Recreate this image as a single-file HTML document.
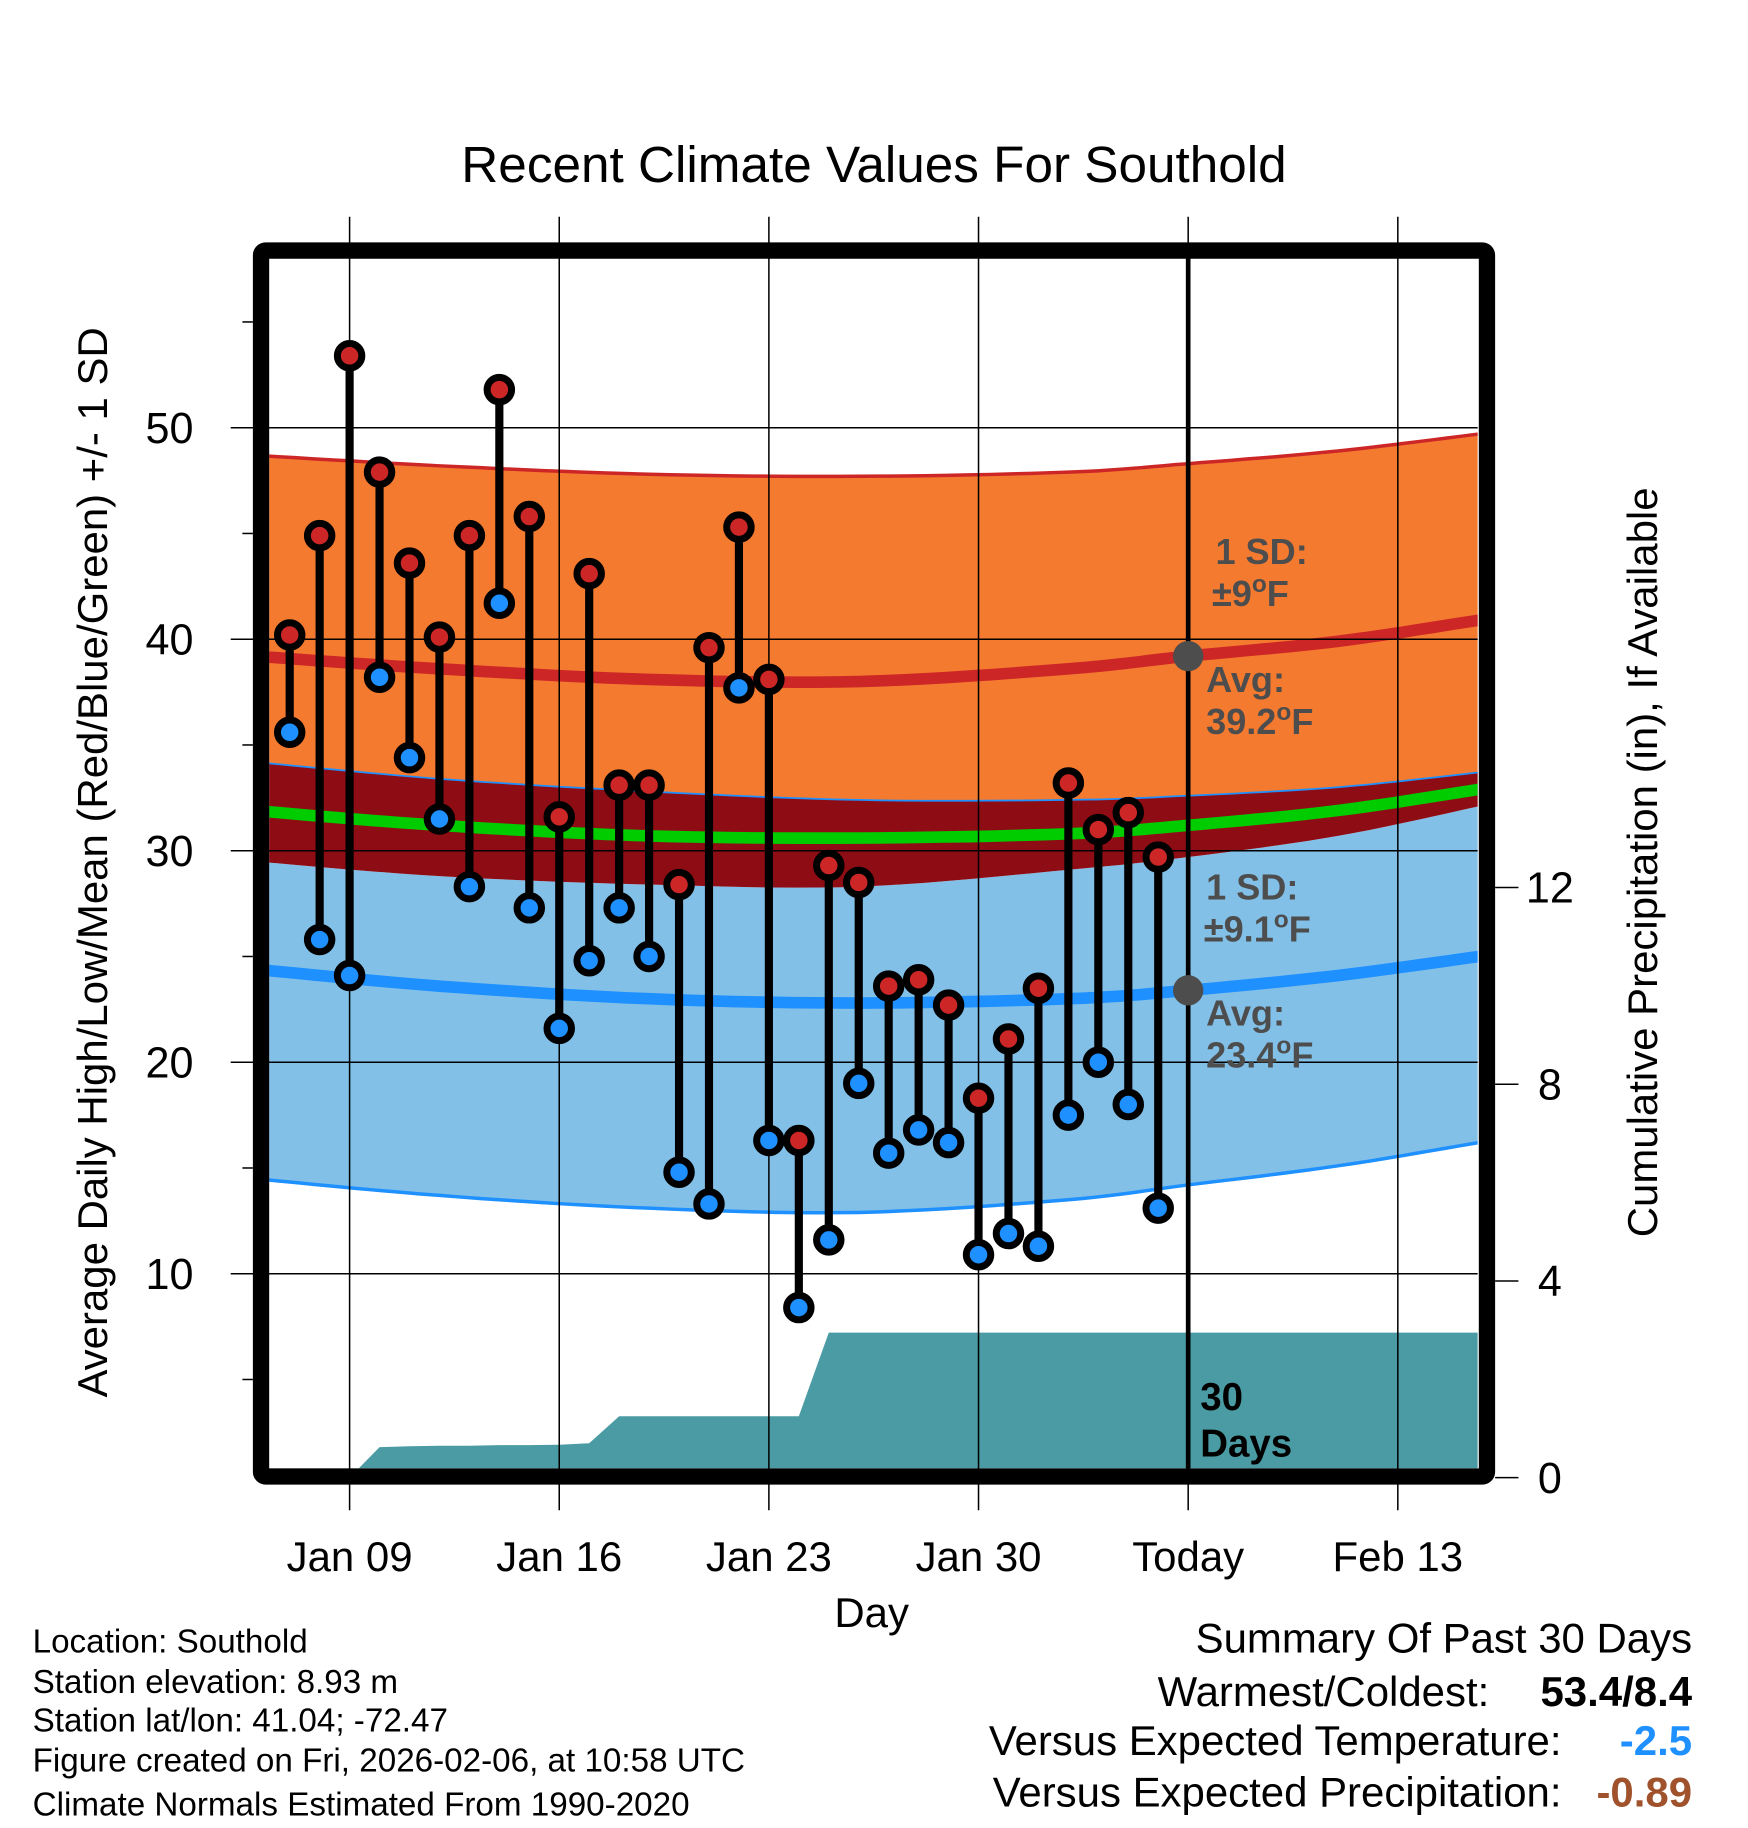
<!DOCTYPE html>
<html><head><meta charset="utf-8"><style>html,body{margin:0;padding:0;background:#fff}svg{display:block}text{font-family:"Liberation Sans",Arial,sans-serif}</style></head>
<body>
<svg id="chart" xmlns="http://www.w3.org/2000/svg" width="1748" height="1828" viewBox="0 0 1500 1568.6">
<text x="750" y="156" font-size="44" text-anchor="middle">Recent Climate Values For Southold</text>
<g id="plot"></g>
</svg>
<script>
// ---- data (days relative to Jan 09) ----
const obsDays = [-2,-1,0,1,2,3,4,5,6,7,8,9,10,11,12,13,14,15,16,17,18,19,20,21,22,23,24,25,26,27];
const highs = [40.2,44.9,53.4,47.9,43.6,40.1,44.9,51.8,45.8,31.6,43.1,33.1,33.1,28.4,39.6,45.3,38.1,16.3,29.3,28.5,23.6,23.9,22.7,18.3,21.1,23.5,33.2,31.0,31.8,29.7];
const lows  = [35.6,25.8,24.1,38.2,34.4,31.5,28.3,41.7,27.3,21.6,24.8,27.3,25.0,14.8,13.3,37.7,16.3,8.4,11.6,19.0,15.7,16.8,16.2,10.9,11.9,11.3,17.5,20.0,18.0,13.1];
const normDays = [-3.2,3,10,17,24,28,33,37.7];
const hiUpper = [48.7,48.2,47.8,47.7,47.9,48.3,48.9,49.7];
const hiAvg   = [39.2,38.6,38.1,38.0,38.6,39.2,39.9,40.9];
const hiLower = [34.2,33.4,32.8,32.4,32.4,32.6,33.0,33.7];
const meanAvg = [31.9,31.2,30.7,30.6,30.8,31.2,31.9,32.9];
const loUpper = [29.5,28.8,28.4,28.3,29.1,29.7,30.7,32.1];
const loAvg   = [24.4,23.6,23.0,22.8,23.0,23.4,24.1,25.0];
const loLower = [14.5,13.7,13.1,12.9,13.5,14.2,15.1,16.2];
const precipDays = [-3.2,0,1,2,3,4,5,6,7,8,9,10,11,12,13,14,15,16,17,18,19,20,21,22,23,24,25,26,27,37.7];
const precipCum  = [0,0,0.62,0.64,0.65,0.65,0.66,0.66,0.67,0.70,1.25,1.25,1.25,1.25,1.25,1.25,1.25,2.95,2.95,2.95,2.95,2.95,2.95,2.95,2.95,2.95,2.95,2.95,2.95,2.95];
const xTickDays = [0,7,14,21,28,35];
const xTickLabels = ["Jan 09","Jan 16","Jan 23","Jan 30","Today","Feb 13"];
const yTicks = [10,20,30,40,50];
const yMinor = [5,15,25,35,45,55];
const pTicks = [0,4,8,12];
const todayDay = 28;

// ---- axes ----
const L=231,R=1268,T=222,B=1260;
const x = d => 300 + d*25.7;
const y = v => 367 + (50 - v)*18.15;
const yp = v => 1268 - v*42.2;
const NS="http://www.w3.org/2000/svg";
const plot=document.getElementById('plot');
function mk(tag,attrs,parent){const e=document.createElementNS(NS,tag);for(const k in attrs)e.setAttribute(k,attrs[k]);(parent||plot).appendChild(e);return e;}
function pts(days,vals,fy){return days.map((d,i)=>x(d).toFixed(1)+','+fy(vals[i]).toFixed(1));}
function smooth(vals){
  const P=normDays.map((d,i)=>[x(d),y(vals[i])]);const out=[];
  for(let i=0;i<P.length-1;i++){const p0=P[Math.max(0,i-1)],p1=P[i],p2=P[i+1],p3=P[Math.min(P.length-1,i+2)];
    for(let k=0;k<10;k++){const t=k/10,t2=t*t,t3=t2*t;
      const f=j=>0.5*((2*p1[j])+(-p0[j]+p2[j])*t+(2*p0[j]-5*p1[j]+4*p2[j]-p3[j])*t2+(-p0[j]+3*p1[j]-3*p2[j]+p3[j])*t3);
      out.push(f(0).toFixed(1)+','+f(1).toFixed(1));}}
  const l=P[P.length-1];out.push(l[0].toFixed(1)+','+l[1].toFixed(1));return out;}
const clip=mk('clipPath',{id:'cp'});mk('rect',{x:L,y:T,width:R-L,height:B-T},clip);
const g=mk('g',{'clip-path':'url(#cp)'});
function gm(tag,a,name){const e=mk(tag,a,g);return e;}
{
  const bandsSpec=[[hiUpper,hiLower,'#f47a30','high-sd-band'],[loUpper,loLower,'#82c0e8','low-sd-band'],[hiLower,loUpper,'#8e0d14','overlap-band']];
  bandsSpec.forEach(s=>{const p=smooth(s[0]).concat(smooth(s[1]).reverse());gm('polygon',{points:p.join(' '),fill:s[2]},s[3]);});
  gm('polyline',{points:smooth(hiUpper).join(' '),fill:'none',stroke:'#cd2626','stroke-width':3},'high-upper-line');
  gm('polyline',{points:smooth(hiLower).join(' '),fill:'none',stroke:'#1e90ff','stroke-width':1.5},'high-lower-line');
  gm('polyline',{points:smooth(loLower).join(' '),fill:'none',stroke:'#1e90ff','stroke-width':3},'low-lower-line');
  gm('polyline',{points:smooth(hiAvg).join(' '),fill:'none',stroke:'#cd2626','stroke-width':10},'normal-high-line');
  gm('polyline',{points:smooth(loAvg).join(' '),fill:'none',stroke:'#1e90ff','stroke-width':10},'normal-low-line');
  gm('polyline',{points:smooth(meanAvg).join(' '),fill:'none',stroke:'#00cc00','stroke-width':10},'normal-mean-line');
  const pp=pts(precipDays,precipCum,yp);
  pp.push(x(precipDays[precipDays.length-1]).toFixed(1)+','+B, x(precipDays[0]).toFixed(1)+','+B);
  gm('polygon',{points:pp.join(' '),fill:'#4a9ba3'},'precip-area');
}
yTicks.forEach(v=>{const e=mk('line',{x1:198,x2:R,y1:y(v),y2:y(v),stroke:'#000','stroke-width':1.3});
  const t=mk('text',{x:166,y:y(v)+13,'font-size':37,'text-anchor':'end'});t.textContent=v;});
yMinor.forEach(v=>{const e=mk('line',{x1:208,x2:217,y1:y(v),y2:y(v),stroke:'#000','stroke-width':1.3});});
xTickDays.forEach((d,i)=>{const e=mk('line',{x1:x(d),x2:x(d),y1:186,y2:1296,stroke:'#000','stroke-width':1.3});
  const t=mk('text',{x:x(d),y:1348,'font-size':36,'text-anchor':'middle'});t.textContent=xTickLabels[i];});
pTicks.forEach(v=>{const e=mk('line',{x1:1283,x2:1303,y1:yp(v),y2:yp(v),stroke:'#000','stroke-width':1.3});
  const t=mk('text',{x:1330,y:yp(v)+13,'font-size':37,'text-anchor':'middle'});t.textContent=v;});
{const e=mk('line',{x1:x(todayDay),x2:x(todayDay),y1:218,y2:B,stroke:'#000','stroke-width':4});}
obsDays.forEach((d,i)=>{const e=mk('line',{x1:x(d),x2:x(d),y1:y(highs[i]),y2:y(lows[i]),stroke:'#000','stroke-width':7});});
obsDays.forEach((d,i)=>{
  const h=mk('circle',{cx:x(d),cy:y(highs[i]),r:10.5,fill:'#cd2626',stroke:'#000','stroke-width':6});
  const l=mk('circle',{cx:x(d),cy:y(lows[i]),r:10.5,fill:'#1e90ff',stroke:'#000','stroke-width':6});
});
{const a=mk('circle',{cx:x(todayDay),cy:y(hiAvg[5]),r:13,fill:'#4d4d4d'});
 const b=mk('circle',{cx:x(todayDay),cy:y(loAvg[5]),r:13,fill:'#4d4d4d'});}
{const f=mk('rect',{x:224,y:215,width:1052,height:1052,fill:'none',stroke:'#000','stroke-width':14,rx:4});}
</script>
<svg style="position:absolute;left:0;top:0" width="1748" height="1828" viewBox="0 0 1500 1568.6" xmlns="http://www.w3.org/2000/svg">
<g font-weight="bold" fill="#4d4d4d" font-size="31">
<text x="1043" y="484">1 SD:</text>
<text x="1040" y="520">±9<tspan dy="-12" font-size="21">o</tspan><tspan dy="12">F</tspan></text>
<text x="1035" y="594">Avg:</text>
<text x="1035" y="630">39.2<tspan dy="-12" font-size="21">o</tspan><tspan dy="12">F</tspan></text>
<text x="1035" y="772">1 SD:</text>
<text x="1033" y="808">±9.1<tspan dy="-12" font-size="21">o</tspan><tspan dy="12">F</tspan></text>
<text x="1035" y="880">Avg:</text>
<text x="1035" y="916">23.4<tspan dy="-12" font-size="21">o</tspan><tspan dy="12">F</tspan></text>
</g>
<g font-weight="bold" fill="#000" font-size="33">
<text x="1030" y="1210">30</text>
<text x="1030" y="1250">Days</text>
</g>
<text x="748" y="1396" font-size="36" text-anchor="middle">Day</text>
<text transform="translate(92,740) rotate(-90)" font-size="36" text-anchor="middle">Average Daily High/Low/Mean (Red/Blue/Green) +/- 1 SD</text>
<text transform="translate(1422,740) rotate(-90)" font-size="36" text-anchor="middle">Cumulative Precipitation (in), If Available</text>
<g font-size="28.5">
<text x="28" y="1418">Location: Southold</text>
<text x="28" y="1453">Station elevation: 8.93 m</text>
<text x="28" y="1486">Station lat/lon: 41.04; -72.47</text>
<text x="28" y="1520">Figure created on Fri, 2026-02-06, at 10:58 UTC</text>
<text x="28" y="1558">Climate Normals Estimated From 1990-2020</text>
</g>
<g font-size="36" text-anchor="end">
<text x="1452" y="1418">Summary Of Past 30 Days</text>
<text x="1278" y="1464">Warmest/Coldest:</text>
<text x="1452" y="1464" font-weight="bold">53.4/8.4</text>
<text x="1340" y="1506">Versus Expected Temperature:</text>
<text x="1452" y="1506" font-weight="bold" fill="#1e90ff">-2.5</text>
<text x="1340" y="1550">Versus Expected Precipitation:</text>
<text x="1452" y="1550" font-weight="bold" fill="#a0522d">-0.89</text>
</g>
</svg>
</body></html>
